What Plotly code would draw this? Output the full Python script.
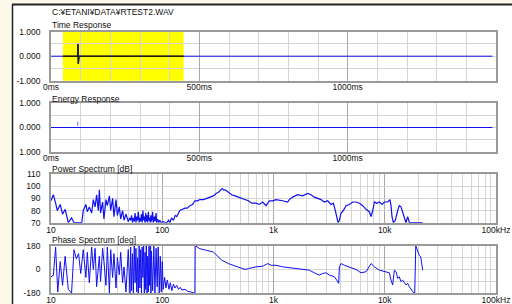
import plotly.graph_objects as go

# ---------------- data ----------------
file_title = "C:¥ETANI¥DATA¥RTEST2.WAV"

# Time response (ms, amplitude)
time_ms = [0, 89, 90, 91, 92, 93, 94, 95, 1488]
time_amp = [0, 0, 0.0, 0.5, -0.31, 0.15, -0.05, 0, 0]
window_ms = [40, 447]

# Energy response
energy_ms = [0, 1488]
energy_val = [0, 0]
energy_peak_ms = [90, 90]
energy_peak_val = [0.07, 0.23]

# Power spectrum (Hz, dB)
pow_f = [10, 10.5, 11.0, 11.4, 12.1, 12.7, 13.4, 14.3, 15.3, 16.1, 18.9, 19.5, 20.6, 21.2, 22.1,
         23.2, 24.0, 24.9, 25.7, 26.6, 27.2, 27.9, 29.1, 29.9, 31.2, 32.1, 33.5, 34.4, 35.8,
         36.8, 38.4, 39.5, 41.1, 42.3, 44.0, 45.3, 47.2, 49.5, 51.3,
         52, 53, 54, 55, 56, 57, 58, 59, 60, 61, 62, 63, 64, 65, 66, 67, 68, 69, 70, 71, 72,
         73, 74, 75, 76, 77, 78, 79, 80, 82, 83, 85, 86, 88, 89, 91, 93, 95, 98, 102, 106,
         110, 114, 117, 121, 126, 131, 135, 140, 144, 152, 160, 168, 177, 187, 197, 208,
         218, 235, 250, 270, 288, 305, 320, 335, 345, 355, 366, 380, 393, 421, 451, 480,
         500, 530, 555, 594, 637, 697, 746, 800, 857, 918, 984, 1053, 1208, 1340, 1387,
         1486, 1648, 1828, 2028, 2173, 2328, 2495, 2673, 2864, 3069, 3289, 3451, 3597,
         3698, 3802, 3908, 4046, 4246, 4488, 4809, 5152, 5521, 5916, 6339, 6792, 7278,
         7534, 7798, 8072, 8472, 8954, 9462, 9931, 10640, 11150, 11380, 11620, 11950,
         12450, 13070, 13520, 13990, 14490, 15000, 15530, 16070, 16640, 21930]
pow_db = [88, 93, 86, 80, 85, 77, 81, 70, 74, 70, 70, 80, 85, 79, 83,
          78, 89, 83, 93, 80, 97, 78, 87, 73, 89, 84, 92, 80, 90,
          75, 89, 76, 83, 73, 80, 72, 77, 71, 74,
          72, 76, 70, 74, 71, 78, 70, 75, 72, 79, 70, 74, 71, 77, 70, 80, 72, 75, 70, 78, 71,
          76, 70, 79, 72, 74, 70, 76, 71, 79, 70, 75, 71, 78, 70, 73, 70, 72, 70, 71, 70,
          70, 72, 70, 74, 72, 76, 75, 78, 80, 81, 82, 82, 84, 85, 88, 88,
          89, 89, 90, 91, 92, 94, 95, 97, 98, 97, 97, 96, 95, 93, 92, 91,
          91, 90, 89, 88, 86, 86, 85, 87, 84, 88, 88, 89, 88, 87, 89,
          91, 93, 92, 94, 93, 91, 90, 89, 87, 88, 85, 86, 80,
          75, 70, 72, 78, 80, 84, 85, 87, 87, 86, 84, 81, 79,
          75, 80, 87, 86, 87, 85, 87, 87, 89, 84, 75, 70,
          72, 80, 84, 83, 79, 74, 70, 75, 70, 70]

# Phase spectrum (Hz, deg)
ph_f = [10, 10.5, 11.0, 11.5, 12.1, 12.7, 13.4, 14.3, 15.3, 16.1, 16.9, 17.7, 18.5, 19.5,
        20.6, 21.2, 22.1, 23.2, 24.0, 24.9, 25.7, 26.6, 27.2, 27.9, 29.1, 29.9, 31.2, 32.1,
        33.5, 34.4, 35.8, 36.8, 38.4, 39.5, 41.1, 42.3, 44.0, 45.3, 47.2, 49.5, 51.3,
        52, 53, 54, 55, 56, 57, 58, 59, 60, 61, 62, 63, 64, 65, 66, 67, 68, 69, 70, 71, 72,
        73, 74, 75, 76, 77, 78, 79, 80, 82, 84, 86, 88, 90, 92, 94, 96, 98, 100, 102, 105,
        108, 111, 115, 118, 122, 126, 130, 135, 140, 145, 150, 160, 170, 180, 190, 196.5,
        197.5, 218, 250, 288, 310, 342, 393, 451, 500, 555, 594, 697, 800, 887, 950, 1053,
        1208, 1387, 1590, 1828, 2095, 2328, 2580, 2768, 2965, 3178, 3524, 3698, 3855, 3908,
        4046, 4340, 4809, 5521, 6120, 6792, 7534, 8072, 8954, 9931, 11000, 11380, 11780,
        12200, 12650, 13070, 13520, 13990, 14490, 15530, 16070, 16640, 17230, 17830, 18460,
        18600, 19000, 19600, 20430, 21070, 21570, 21930]
ph_deg = [-55, -45, 170, -170, 60, -120, 100, -150, -178, 150, 80, 120, -30, 150,
          -60, 130, -100, 170, 0, 160, -130, 40, 100, -90, 160, 60, -120, 170,
          -178, 150, -60, 120, -140, 90, -40, 130, -100, 20, -170, 150, -178,
          170, -160, 120, -178, 178, -100, 160, -170, 90, -178, 178, -140, 150, -178, 170, -60,
          178, -178, 130, -150, 178, -178, 100, -170, 175, -120, 178, -178, 140, -160, 178,
          -178, 160, -130, 170, -178, 100, -170, 60, -150, -60,
          -140, -80, -150, -100, -160, -110, -140, -120, -150, -135, -155, -150, -165, -170,
          -178, -180,
          180, 157, 145, 132, 107, 70, 45, 25, 15, 0, 7, 20, 25, 45, 32, 32,
          20, 15, 7, 0, -5, -25, -42, -30, -25, -42, -55, -80, -105, 20,
          45, 32, 20, 0, -25, -17, 45, 20, -5, -17, -25, -80, -117,
          -5, -17, -67, -55, -92, -80, -117, -105, -130, -155, -167, -180,
          -180, 180, 145, 107, 95, 45, -5]

# ---------------- styling ----------------
W, H = 512, 304
FONT = "Liberation Sans"
FS = 8.5
BLUE = "#1010f0"
MINOR = "#d6d6d6"
MAJOR = "#a8a8a8"
FRAME = "#9a9a9a"


def px_x(x):
    return x / W


def px_y(y):
    return 1 - y / H


fig = go.Figure()

xdom = [px_x(51), px_x(496)]
doms = {
    1: [px_y(80.7), px_y(31.7)],
    2: [px_y(152.3), px_y(102.7)],
    3: [px_y(222.7), px_y(174)],
    4: [px_y(293.3), px_y(245.7)],
}

fig.add_trace(go.Scatter(x=time_ms, y=time_amp, mode="lines", line=dict(color=BLUE, width=1),
                         xaxis="x", yaxis="y", hoverinfo="skip"))
win_t = [window_ms[0]] + [t for t in time_ms if window_ms[0] < t < window_ms[1]] + [window_ms[1]]
win_a = [0] + [a for t, a in zip(time_ms, time_amp) if window_ms[0] < t < window_ms[1]] + [0]
fig.add_trace(go.Scatter(x=win_t, y=win_a, mode="lines", line=dict(color="#202000", width=1.6),
                         xaxis="x", yaxis="y", hoverinfo="skip"))

fig.add_trace(go.Scatter(x=energy_ms, y=energy_val, mode="lines", line=dict(color=BLUE, width=1),
                         xaxis="x2", yaxis="y2", hoverinfo="skip"))
fig.add_trace(go.Scatter(x=energy_peak_ms, y=energy_peak_val, mode="lines",
                         line=dict(color="#8080ff", width=1.2),
                         xaxis="x2", yaxis="y2", hoverinfo="skip"))

fig.add_trace(go.Scatter(x=pow_f, y=pow_db, mode="lines", line=dict(color=BLUE, width=1.2),
                         xaxis="x3", yaxis="y3", hoverinfo="skip"))
fig.add_trace(go.Scatter(x=ph_f, y=ph_deg, mode="lines", line=dict(color=BLUE, width=1),
                         xaxis="x4", yaxis="y4", hoverinfo="skip"))

axis_common = dict(showline=True, mirror=True, linecolor=FRAME, linewidth=1.5,
                   zeroline=False, ticks="outside", tickcolor="rgba(0,0,0,0)",
                   automargin=False,
                   tickfont=dict(family=FONT, size=FS, color="#111"), fixedrange=True)
y_common = dict(axis_common, ticklen=7)

time_x = dict(axis_common, range=[0, 1500], tickvals=[0, 500, 1000],
              ticktext=["0ms", "500ms", "1000ms"], showgrid=True, gridcolor=MAJOR, gridwidth=1,
              minor=dict(dtick=100, showgrid=True, gridcolor=MINOR, ticklen=0), ticklen=0,
              ticklabelstandoff=-3)
freq_x = dict(axis_common, type="log", range=[1, 5],
              tickvals=[10, 100, 1000, 10000, 100000],
              ticktext=["10", "100", "1k", "10k", "100kHz"], showgrid=True, gridcolor=MAJOR,
              minor=dict(dtick="D1", showgrid=True, gridcolor=MINOR, ticklen=0), ticklen=0,
              ticklabelstandoff=-2)

fig.update_layout(
    width=W, height=H, autosize=False, margin=dict(l=0, r=0, t=0, b=0, pad=0),
    paper_bgcolor="#fdf9ea", plot_bgcolor="white", showlegend=False,
    hovermode=False,
    xaxis=dict(time_x, domain=xdom, anchor="y"),
    yaxis=dict(y_common, domain=doms[1], anchor="x", range=[-1, 1], tickvals=[-1, 0, 1],
               ticktext=["-1.000", "0.000", "1.000"], showgrid=True, gridcolor=MINOR,
               minor=dict(dtick=0.5, showgrid=True, gridcolor=MINOR, ticklen=0)),
    xaxis2=dict(time_x, domain=xdom, anchor="y2"),
    yaxis2=dict(y_common, domain=doms[2], anchor="x2", range=[-1, 1], tickvals=[-1, 0, 1],
                ticktext=["1.000", "0.000", "1.000"], showgrid=True, gridcolor=MINOR,
                minor=dict(dtick=0.5, showgrid=True, gridcolor=MINOR, ticklen=0)),
    xaxis3=dict(freq_x, domain=xdom, anchor="y3"),
    yaxis3=dict(y_common, domain=doms[3], anchor="x3", range=[70, 110], dtick=10,
                showgrid=True, gridcolor=MINOR),
    xaxis4=dict(freq_x, domain=xdom, anchor="y4"),
    yaxis4=dict(y_common, domain=doms[4], anchor="x4", range=[-180, 180],
                tickvals=[-180, 0, 180], ticktext=["-180", "0", "180"], showgrid=True,
                gridcolor=MINOR, minor=dict(dtick=90, showgrid=True, gridcolor=MINOR, ticklen=0)),
)

shapes = [
    dict(type="rect", xref="paper", yref="paper", x0=px_x(13), x1=1.02, y0=-0.02, y1=px_y(5),
         fillcolor="white", line=dict(width=0), layer="below"),
    dict(type="line", xref="paper", yref="paper", x0=px_x(12), x1=1.02, y0=px_y(4.5), y1=px_y(4.5),
         line=dict(color="#222", width=2), layer="below"),
    dict(type="line", xref="paper", yref="paper", x0=px_x(12.5), x1=px_x(12.5), y0=-0.02, y1=px_y(4.5),
         line=dict(color="#222", width=1.5), layer="below"),
    dict(type="rect", xref="x", yref="y domain", x0=window_ms[0], x1=window_ms[1], y0=0, y1=1,
         fillcolor="#ffff00", line=dict(width=0), layer="below"),
]
fig.update_layout(shapes=shapes)

titles = [
    (file_title, 12),
    ("Time Response", 25.5),
    ("Energy Response", 98.5),
    ("Power Spectrum [dB]", 168.5),
    ("Phase Spectrum [deg]", 240),
]
for txt, ypx in titles:
    fig.add_annotation(text=txt, xref="paper", yref="paper", x=px_x(50), y=px_y(ypx),
                       xanchor="left", yanchor="middle", showarrow=False,
                       font=dict(family=FONT, size=FS, color="#111"))

fig.write_html("out.html", config={"responsive": False, "displayModeBar": False},
               post_script="document.body.style.margin='0';document.body.style.overflow='hidden';")
